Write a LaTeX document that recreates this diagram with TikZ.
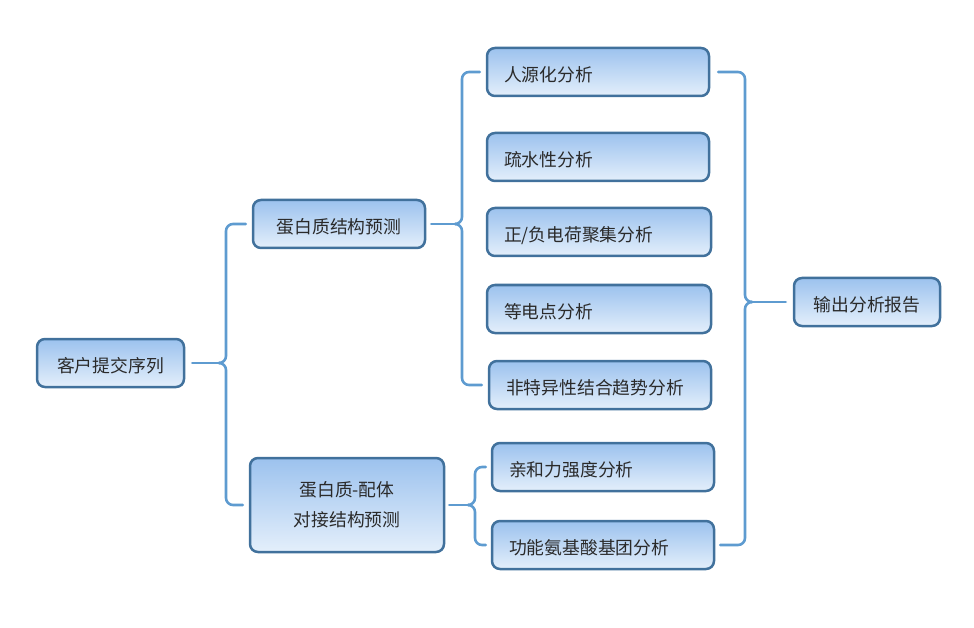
\documentclass[tikz,border=0pt]{standalone}
\usepackage{fontspec}
\setmainfont{Noto Sans CJK SC}
\definecolor{bordc}{HTML}{41719C}
\definecolor{topc}{HTML}{9CC2EE}
\definecolor{botc}{HTML}{E4EFFB}
\definecolor{brc}{HTML}{5E9BD0}
\definecolor{txtc}{HTML}{2A2A2A}
\tikzset{
  box/.style={draw=bordc, line width=2.5pt, rounded corners=8pt, top color=topc, bottom color=botc,
    minimum height=48pt, inner sep=0pt, text=txtc, font=\fontsize{17.8}{20}\selectfont, align=center},
  one/.style={text height=20.5pt, text depth=2pt},
  lbox/.style={box, one, align=left, text width=#1},
  br/.style={draw=brc, line width=2.6pt, rounded corners=7pt, line cap=round},
}
\begin{document}
\begin{tikzpicture}[x=1pt,y=-1pt]
\useasboundingbox (0,0) rectangle (974,628);
\node[box, one, minimum width=147pt] (c) at (110.5,363) {客户提交序列};
\node[box, one, minimum width=172pt] (prot) at (339,224) {蛋白质结构预测};
\node[box, minimum width=194pt, minimum height=94pt, font=\fontsize{17.8}{30}\selectfont] (dock) at (347,505) {蛋白质-配体\\对接结构预测};
\node[box, lbox=188pt, minimum width=222pt] (h1) at (598,72) {人源化分析};
\node[box, lbox=188pt, minimum width=222pt] (h2) at (598,157) {疏水性分析};
\node[box, lbox=190pt, minimum width=224pt] (h3) at (599,232) {正/负电荷聚集分析};
\node[box, lbox=190pt, minimum width=224pt] (h4) at (599,309) {等电点分析};
\node[box, lbox=188pt, minimum width=222pt] (h5) at (600,385) {非特异性结合趋势分析};
\node[box, lbox=188pt, minimum width=222pt] (d1) at (603,467) {亲和力强度分析};
\node[box, lbox=188pt, minimum width=222pt] (d2) at (603,545) {功能氨基酸基团分析};
\node[box, one, minimum width=146pt] (r) at (867,302) {输出分析报告};
% brace 1
\coordinate (k1) at (220,363);
\draw[br] ([xshift=-6pt]prot.west) -- (226,224) -- (226,363) -- (k1);
\draw[br] ([xshift=-6pt]dock.west) -- (226,505) -- (226,363) -- (k1);
\draw[br] ([xshift=7pt]c.east) -- (k1);
% brace 2
\coordinate (k2) at (456,224);
\draw[br] ([xshift=-6pt]h1.west) -- (462,72) -- (462,224) -- (k2);
\draw[br] ([xshift=-6pt]h5.west) -- (462,385) -- (462,224) -- (k2);
\draw[br] ([xshift=5pt]prot.east) -- (k2);
% brace 3
\coordinate (k3) at (469,505);
\draw[br] ([xshift=-5pt]d1.west) -- (475,467) -- (475,505) -- (k3);
\draw[br] ([xshift=-5pt]d2.west) -- (475,545) -- (475,505) -- (k3);
\draw[br] ([xshift=4pt]dock.east) -- (k3);
% brace 4
\coordinate (k4) at (751,302);
\draw[br] ([xshift=8pt]h1.east) -- (745,72) -- (745,302) -- (k4);
\draw[br] ([xshift=5pt]d2.east) -- (745,545) -- (745,302) -- (k4);
\draw[br] ([xshift=-7pt]r.west) -- (k4);
\end{tikzpicture}
\end{document}
